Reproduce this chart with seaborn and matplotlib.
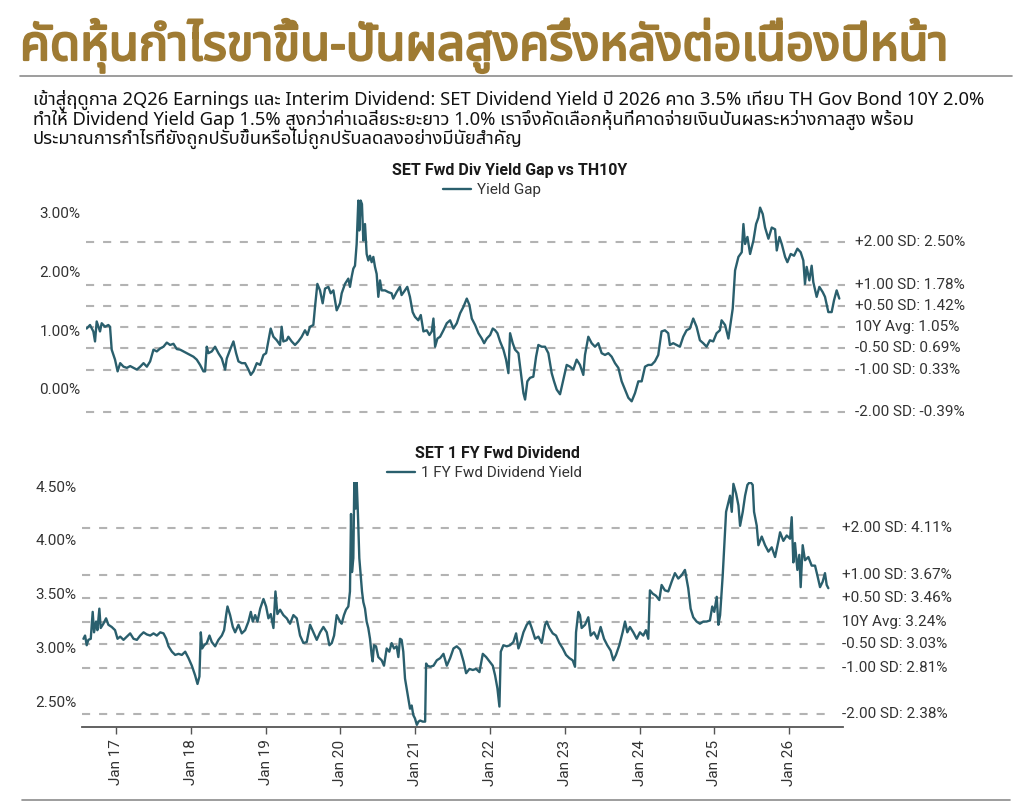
import numpy as np
import pandas as pd
import matplotlib
matplotlib.use("Agg")
import matplotlib.pyplot as plt
import matplotlib.patheffects as pe
import seaborn as sns
from matplotlib import font_manager
from matplotlib.ft2font import FT2Font
from matplotlib.ticker import FuncFormatter

# ---- data: decimal year / percent ----
gap_years = [
    2016.594, 2016.638, 2016.682, 2016.704, 2016.726, 2016.770, 2016.792, 2016.836,
    2016.880, 2016.902, 2016.924, 2016.968, 2017.000, 2017.034, 2017.078, 2017.122,
    2017.166, 2017.210, 2017.254, 2017.298, 2017.342, 2017.386, 2017.429, 2017.473,
    2017.517, 2017.561, 2017.605, 2017.649, 2017.693, 2017.737, 2017.781, 2017.825,
    2017.869, 2017.913, 2017.957, 2018.001, 2018.045, 2018.089, 2018.133, 2018.155,
    2018.177, 2018.199, 2018.243, 2018.287, 2018.331, 2018.375, 2018.419, 2018.441,
    2018.485, 2018.529, 2018.564, 2018.595, 2018.639, 2018.683, 2018.727, 2018.758,
    2018.793, 2018.837, 2018.881, 2018.925, 2018.960, 2018.991, 2019.021, 2019.057,
    2019.101, 2019.144, 2019.166, 2019.188, 2019.232, 2019.254, 2019.298, 2019.342,
    2019.386, 2019.430, 2019.474, 2019.505, 2019.540, 2019.584, 2019.606, 2019.637,
    2019.672, 2019.707, 2019.738, 2019.782, 2019.813, 2019.848, 2019.892, 2019.936,
    2019.958, 2020.002, 2020.046, 2020.068, 2020.090, 2020.112, 2020.134, 2020.156,
    2020.178, 2020.191, 2020.209, 2020.226, 2020.244, 2020.266, 2020.288, 2020.310,
    2020.332, 2020.354, 2020.376, 2020.398, 2020.420, 2020.442, 2020.464, 2020.486,
    2020.530, 2020.574, 2020.617, 2020.639, 2020.683, 2020.727, 2020.749, 2020.793,
    2020.824, 2020.859, 2020.895, 2020.925, 2020.969, 2021.000, 2021.035, 2021.079,
    2021.114, 2021.145, 2021.167, 2021.189, 2021.220, 2021.255, 2021.299, 2021.343,
    2021.387, 2021.431, 2021.475, 2021.519, 2021.563, 2021.607, 2021.642, 2021.673,
    2021.717, 2021.761, 2021.805, 2021.836, 2021.871, 2021.915, 2021.950, 2021.981,
    2022.012, 2022.047, 2022.091, 2022.126, 2022.157, 2022.179, 2022.214, 2022.245,
    2022.289, 2022.319, 2022.355, 2022.377, 2022.407, 2022.442, 2022.486, 2022.522,
    2022.552, 2022.596, 2022.640, 2022.684, 2022.728, 2022.759, 2022.794, 2022.838,
    2022.882, 2022.926, 2022.970, 2023.014, 2023.058, 2023.102, 2023.146, 2023.168,
    2023.212, 2023.256, 2023.300, 2023.344, 2023.388, 2023.432, 2023.476, 2023.520,
    2023.564, 2023.608, 2023.652, 2023.696, 2023.740, 2023.784, 2023.828, 2023.872,
    2023.916, 2023.960, 2024.003, 2024.047, 2024.091, 2024.135, 2024.179, 2024.223,
    2024.267, 2024.289, 2024.333, 2024.377, 2024.421, 2024.465, 2024.509, 2024.553,
    2024.597, 2024.641, 2024.685, 2024.729, 2024.773, 2024.817, 2024.861, 2024.905,
    2024.949, 2024.971, 2025.015, 2025.059, 2025.081, 2025.116, 2025.147, 2025.191,
    2025.235, 2025.257, 2025.279, 2025.310, 2025.345, 2025.389, 2025.424, 2025.455,
    2025.477, 2025.512, 2025.543, 2025.587, 2025.631, 2025.675, 2025.697, 2025.732,
    2025.763, 2025.807, 2025.837, 2025.881, 2025.925, 2025.969, 2026.013, 2026.048,
    2026.070, 2026.092, 2026.128, 2026.158, 2026.180, 2026.224, 2026.260, 2026.304,
    2026.334, 2026.378, 2026.422, 2026.453, 2026.488, 2026.523,
]
gap_vals = [
    1.03, 1.09, 0.98, 0.81, 1.15, 0.98, 1.12, 1.06,
    1.09, 1.06, 0.67, 0.50, 0.30, 0.44, 0.38, 0.36,
    0.39, 0.36, 0.33, 0.38, 0.44, 0.38, 0.47, 0.67,
    0.64, 0.69, 0.72, 0.79, 0.75, 0.77, 0.68, 0.67,
    0.64, 0.61, 0.58, 0.55, 0.50, 0.41, 0.30, 0.30,
    0.72, 0.61, 0.64, 0.72, 0.61, 0.52, 0.33, 0.52,
    0.67, 0.81, 0.61, 0.47, 0.44, 0.44, 0.33, 0.24,
    0.30, 0.44, 0.41, 0.58, 0.61, 0.83, 1.03, 0.89,
    0.83, 0.75, 1.06, 0.81, 0.83, 0.89, 0.81, 0.75,
    0.81, 0.89, 1.00, 0.92, 1.06, 1.09, 1.40, 1.79,
    1.68, 1.46, 1.71, 1.74, 1.63, 1.68, 1.34, 1.46,
    1.63, 1.79, 1.88, 1.74, 1.91, 2.05, 2.10, 2.47,
    3.21, 2.70, 3.21, 3.15, 2.53, 2.81, 2.30, 2.19,
    2.27, 2.16, 2.25, 2.08, 1.96, 1.57, 1.85, 1.68,
    1.68, 1.65, 1.63, 1.54, 1.65, 1.74, 1.60, 1.68,
    1.74, 1.57, 1.31, 1.23, 1.17, 1.26, 0.98, 1.00,
    0.92, 0.98, 1.20, 0.72, 0.86, 0.89, 1.00, 1.12,
    1.17, 1.03, 1.12, 1.29, 1.40, 1.54, 1.43, 1.20,
    1.09, 0.95, 0.86, 0.78, 0.86, 0.92, 1.03, 1.00,
    0.95, 0.81, 0.67, 0.50, 0.27, 0.95, 0.78, 0.67,
    0.61, 0.30, -0.07, -0.18, 0.13, 0.19, 0.21, 0.55,
    0.75, 0.72, 0.72, 0.61, 0.27, 0.13, -0.01, -0.09,
    0.16, 0.41, 0.38, 0.33, 0.50, 0.41, 0.24, 0.58,
    0.89, 0.78, 0.72, 0.78, 0.61, 0.58, 0.61, 0.55,
    0.44, 0.36, 0.13, -0.01, -0.15, -0.21, -0.07, 0.13,
    0.13, 0.38, 0.41, 0.41, 0.47, 0.58, 0.98, 1.00,
    0.95, 0.75, 0.78, 0.75, 0.72, 0.89, 1.00, 1.03,
    1.20, 1.06, 0.83, 0.78, 0.72, 0.83, 0.81, 0.95,
    1.00, 1.17, 1.09, 0.86, 1.06, 1.37, 2.02, 2.25,
    2.33, 2.81, 2.47, 2.59, 2.30, 2.53, 2.81, 2.92,
    3.09, 2.98, 2.75, 2.56, 2.75, 2.72, 2.36, 2.59,
    2.47, 2.25, 2.16, 2.30, 2.27, 2.39, 2.33, 2.19,
    1.79, 2.08, 1.85, 2.10, 1.82, 1.57, 1.74, 1.65,
    1.57, 1.31, 1.31, 1.51, 1.68, 1.54,
]

dy_years = [
    2016.564, 2016.586, 2016.608, 2016.630, 2016.662, 2016.688, 2016.706, 2016.733,
    2016.751, 2016.777, 2016.795, 2016.831, 2016.867, 2016.898, 2016.942, 2016.987,
    2017.018, 2017.054, 2017.098, 2017.143, 2017.187, 2017.232, 2017.277, 2017.321,
    2017.366, 2017.410, 2017.455, 2017.499, 2017.544, 2017.589, 2017.633, 2017.669,
    2017.700, 2017.745, 2017.789, 2017.834, 2017.878, 2017.923, 2017.967, 2018.012,
    2018.056, 2018.088, 2018.114, 2018.132, 2018.150, 2018.177, 2018.212, 2018.248,
    2018.279, 2018.324, 2018.368, 2018.413, 2018.444, 2018.471, 2018.489, 2018.524,
    2018.560, 2018.591, 2018.636, 2018.680, 2018.725, 2018.769, 2018.801, 2018.827,
    2018.859, 2018.890, 2018.926, 2018.970, 2019.006, 2019.037, 2019.068, 2019.104,
    2019.131, 2019.157, 2019.193, 2019.237, 2019.282, 2019.326, 2019.371, 2019.416,
    2019.460, 2019.505, 2019.549, 2019.594, 2019.638, 2019.683, 2019.728, 2019.772,
    2019.817, 2019.852, 2019.884, 2019.915, 2019.950, 2019.995, 2020.017, 2020.048,
    2020.075, 2020.106, 2020.128, 2020.142, 2020.155, 2020.173, 2020.186, 2020.204,
    2020.218, 2020.235, 2020.253, 2020.271, 2020.289, 2020.307, 2020.329, 2020.351,
    2020.373, 2020.396, 2020.418, 2020.431, 2020.449, 2020.476, 2020.507, 2020.552,
    2020.583, 2020.619, 2020.654, 2020.685, 2020.717, 2020.752, 2020.775, 2020.797,
    2020.819, 2020.841, 2020.864, 2020.886, 2020.908, 2020.931, 2020.953, 2020.975,
    2020.997, 2021.020, 2021.042, 2021.064, 2021.100, 2021.131, 2021.144, 2021.162,
    2021.198, 2021.243, 2021.287, 2021.332, 2021.376, 2021.421, 2021.465, 2021.510,
    2021.554, 2021.599, 2021.644, 2021.679, 2021.724, 2021.768, 2021.813, 2021.857,
    2021.902, 2021.947, 2021.991, 2022.036, 2022.067, 2022.098, 2022.125, 2022.143,
    2022.178, 2022.223, 2022.267, 2022.312, 2022.348, 2022.379, 2022.410, 2022.446,
    2022.490, 2022.526, 2022.557, 2022.602, 2022.646, 2022.691, 2022.735, 2022.758,
    2022.793, 2022.838, 2022.882, 2022.927, 2022.972, 2023.016, 2023.061, 2023.105,
    2023.136, 2023.150, 2023.181, 2023.203, 2023.225, 2023.270, 2023.314, 2023.346,
    2023.390, 2023.435, 2023.479, 2023.524, 2023.568, 2023.613, 2023.649, 2023.684,
    2023.729, 2023.773, 2023.805, 2023.836, 2023.871, 2023.916, 2023.961, 2024.005,
    2024.050, 2024.085, 2024.117, 2024.139, 2024.175, 2024.219, 2024.264, 2024.295,
    2024.339, 2024.384, 2024.429, 2024.473, 2024.518, 2024.562, 2024.607, 2024.651,
    2024.683, 2024.718, 2024.763, 2024.807, 2024.852, 2024.896, 2024.941, 2024.972,
    2024.999, 2025.030, 2025.052, 2025.075, 2025.110, 2025.133, 2025.155, 2025.186,
    2025.208, 2025.231, 2025.253, 2025.289, 2025.320, 2025.342, 2025.378, 2025.409,
    2025.440, 2025.476, 2025.511, 2025.529, 2025.565, 2025.587, 2025.632, 2025.676,
    2025.721, 2025.765, 2025.810, 2025.855, 2025.877, 2025.921, 2025.966, 2026.011,
    2026.033, 2026.055, 2026.077, 2026.109, 2026.135, 2026.153, 2026.180, 2026.211,
    2026.256, 2026.300, 2026.345, 2026.376, 2026.412, 2026.447, 2026.478, 2026.501,
    2026.523,
]
dy_vals = [
    3.08, 3.11, 3.02, 3.07, 3.08, 3.33, 3.14, 3.24,
    3.16, 3.36, 3.18, 3.22, 3.27, 3.21, 3.19, 3.16,
    3.08, 3.10, 3.07, 3.10, 3.13, 3.08, 3.07, 3.11,
    3.14, 3.12, 3.11, 3.13, 3.11, 3.14, 3.13, 3.08,
    3.01, 2.96, 2.93, 2.94, 2.93, 2.96, 2.90, 2.83,
    2.74, 2.66, 2.73, 3.14, 2.99, 3.02, 3.04, 3.11,
    3.05, 3.01, 3.07, 3.11, 3.16, 3.30, 3.38, 3.30,
    3.19, 3.14, 3.21, 3.13, 3.16, 3.24, 3.33, 3.24,
    3.30, 3.24, 3.36, 3.45, 3.38, 3.27, 3.31, 3.18,
    3.52, 3.31, 3.35, 3.30, 3.27, 3.22, 3.30, 3.27,
    3.11, 3.04, 3.05, 3.21, 3.14, 3.07, 3.14, 3.19,
    3.14, 3.02, 3.04, 3.11, 3.30, 3.24, 3.22, 3.30,
    3.35, 3.38, 3.52, 4.24, 3.70, 3.83, 4.54, 4.29,
    4.54, 4.23, 3.83, 3.67, 3.52, 3.42, 3.36, 3.24,
    3.18, 3.08, 2.93, 2.87, 3.02, 3.01, 2.91, 2.88,
    2.83, 2.99, 2.96, 3.04, 2.99, 3.01, 2.91, 3.08,
    3.07, 2.96, 2.71, 2.62, 2.53, 2.43, 2.46, 2.37,
    2.34, 2.28, 2.31, 2.32, 2.31, 2.31, 2.85, 2.83,
    2.82, 2.83, 2.88, 2.90, 2.94, 2.83, 2.90, 2.99,
    3.01, 2.98, 2.87, 2.76, 2.80, 2.79, 2.80, 2.77,
    2.94, 2.91, 2.87, 2.83, 2.74, 2.62, 2.45, 2.96,
    3.02, 3.01, 3.02, 3.05, 3.13, 2.99, 3.05, 3.14,
    3.21, 3.24, 3.18, 3.08, 3.10, 3.04, 3.21, 3.24,
    3.18, 3.13, 3.11, 3.04, 2.99, 2.93, 2.90, 2.88,
    2.82, 3.14, 3.33, 3.30, 3.18, 3.21, 3.28, 3.11,
    3.14, 3.08, 3.19, 3.08, 3.02, 2.97, 2.88, 2.93,
    3.02, 3.14, 3.24, 3.14, 3.19, 3.14, 3.08, 3.14,
    3.11, 3.16, 3.08, 3.53, 3.50, 3.48, 3.44, 3.58,
    3.53, 3.52, 3.61, 3.69, 3.64, 3.67, 3.72, 3.55,
    3.36, 3.28, 3.24, 3.22, 3.24, 3.24, 3.25, 3.38,
    3.33, 3.47, 3.21, 3.30, 3.67, 3.98, 4.26, 4.35,
    4.41, 4.26, 4.52, 4.43, 4.32, 4.13, 4.26, 4.41,
    4.51, 4.54, 4.51, 4.26, 4.13, 3.95, 4.03, 3.95,
    3.89, 3.93, 3.84, 3.99, 4.07, 3.99, 4.04, 4.01,
    4.21, 3.79, 3.97, 3.72, 3.86, 3.56, 3.95, 3.81,
    3.84, 3.76, 3.76, 3.67, 3.56, 3.61, 3.69, 3.58,
    3.55,
]

gap_levels = [2.50, 1.78, 1.42, 1.05, 0.69, 0.33, -0.39]
gap_level_labels = ["+2.00 SD: 2.50%", "+1.00 SD: 1.78%", "+0.50 SD: 1.42%", "10Y Avg: 1.05%",
                    "-0.50 SD: 0.69%", "-1.00 SD: 0.33%", "-2.00 SD: -0.39%"]
dy_levels = [4.11, 3.67, 3.46, 3.24, 3.03, 2.81, 2.38]
dy_level_labels = ["+2.00 SD: 4.11%", "+1.00 SD: 3.67%", "+0.50 SD: 3.46%", "10Y Avg: 3.24%",
                   "-0.50 SD: 3.03%", "-1.00 SD: 2.81%", "-2.00 SD: 2.38%"]
gap_yticks = [0, 1, 2, 3]
dy_yticks = [2.5, 3.0, 3.5, 4.0, 4.5]
tick_years = list(range(2017, 2027))
tick_labels = [f"Jan {y % 100:02d}" for y in tick_years]

headline = "คัดหุ้นกำไรขาขึ้น-ปันผลสูงครึ่งหลังต่อเนื่องปีหน้า"
sub_lines = [
    "เข้าสู่ฤดูกาล 2Q26 Earnings และ Interim Dividend: SET Dividend Yield ปี 2026 คาด 3.5% เทียบ TH Gov Bond 10Y 2.0%",
    "ทำให้ Dividend Yield Gap 1.5% สูงกว่าค่าเฉลี่ยระยะยาว 1.0% เราจึงคัดเลือกหุ้นที่คาดจ่ายเงินปันผลระหว่างกาลสูง พร้อม",
    "ประมาณการกำไรที่ยังถูกปรับขึ้นหรือไม่ถูกปรับลดลงอย่างมีนัยสำคัญ",
]


def to_date(yrs):
    yrs = np.asarray(yrs, dtype=float)
    whole = np.floor(yrs).astype(int)
    start = pd.to_datetime([f"{y}-01-01" for y in whole])
    return start + pd.to_timedelta((yrs - whole) * 365.25, unit="D")


def find_thai_font():
    found = []
    for f in font_manager.fontManager.ttflist:
        try:
            if 0x0E01 in FT2Font(f.fname).get_charmap():
                found.append(f.name)
        except Exception:
            pass
    for pref in ["Noto Sans Thai", "Noto Sans Thai UI", "Kanit", "Prompt", "Sarabun",
                 "IBM Plex Sans Thai", "Laksaman", "Waree", "Loma", "Garuda"]:
        if pref in found:
            return pref
    return found[0] if found else "DejaVu Sans"


sns.set_theme(style="white")
thai = find_thai_font()
plt.rcParams["font.family"] = ["Roboto", "DejaVu Sans"]

LINE = "#2a5f6d"
GOLD = "#9f7b33"
TXT = "#333333"
DASH = "#b3b3b3"
W, H = 1024, 808

fig = plt.figure(figsize=(W / 100, H / 100), dpi=100)


def fx(px):
    return px / W


def fy(py):
    return 1 - py / H


def fit_width(txt, target_px):
    # shrink/grow font so the text spans the same width as in the reference
    r = fig.canvas.get_renderer()
    w = txt.get_window_extent(renderer=r).width
    txt.set_fontsize(txt.get_fontsize() * target_px / w)


# header
head = fig.text(fx(20), fy(60), headline, family=[thai, "DejaVu Sans"], fontsize=36,
                fontweight="bold", color=GOLD, va="baseline", ha="left",
                path_effects=[pe.withStroke(linewidth=1.6, foreground=GOLD)])
fit_width(head, 928)
fig.add_artist(plt.Line2D([fx(20), fx(1012)], [fy(76), fy(76)], color="#8c8c8c", lw=1.2))
subs = []
for i, line in enumerate(sub_lines):
    subs.append(fig.text(fx(33), fy(100 + 19.5 * i), line, family=[thai, "DejaVu Sans"],
                         fontsize=12, color="#111111", va="center", ha="left"))
r = fig.canvas.get_renderer()
scale = 952 / subs[0].get_window_extent(renderer=r).width
for t in subs:
    t.set_fontsize(12 * scale)
fig.add_artist(plt.Line2D([fx(22), fx(1010)], [fy(800), fy(800)], color="#8c8c8c", lw=1.2))

# top panel
ax1 = fig.add_axes([fx(86), fy(415.4), fx(759), (415.4 - 198.8) / H])
df1 = pd.DataFrame({"date": to_date(gap_years), "val": gap_vals})
sns.lineplot(data=df1, x="date", y="val", ax=ax1, color=LINE, lw=1.7, label="Yield Gap")
ax1.set_xlim(to_date([2016.585, 2026.598]))
ax1.set_ylim(-0.45, 3.24)
for lv in gap_levels:
    ax1.axhline(lv, color=DASH, lw=1.5, dashes=(3.9, 4.3), zorder=0)
for lv, lab in zip(gap_levels, gap_level_labels):
    ax1.text((855 - 86) / 759, lv, lab, transform=ax1.get_yaxis_transform(),
             fontsize=11, color=TXT, va="center", ha="left")
ax1.set_yticks(gap_yticks)
ax1.yaxis.set_major_formatter(FuncFormatter(lambda v, p: f"{v:.2f}%"))
ax1.set_xticks([])
ax1.set_xlabel("")
ax1.set_ylabel("")
sns.despine(ax=ax1, left=True, bottom=True)
ax1.tick_params(axis="y", length=0, pad=4, labelsize=11, labelcolor=TXT)
ax1.legend(loc="center left", bbox_to_anchor=(fx(443), fy(190)), bbox_transform=fig.transFigure,
           frameon=False, fontsize=11, handlelength=1.85, handletextpad=0.4,
           borderpad=0, borderaxespad=0, labelcolor=TXT)
fig.text(fx(510), fy(171), "SET Fwd Div Yield Gap vs TH10Y", fontsize=11.5, fontweight="bold",
         color="#1a1a1a", ha="center", va="center")

# bottom panel
ax2 = fig.add_axes([fx(82), fy(727), fx(761), (727 - 481.7) / H])
df2 = pd.DataFrame({"date": to_date(dy_years), "val": dy_vals})
sns.lineplot(data=df2, x="date", y="val", ax=ax2, color=LINE, lw=1.7,
             label="1 FY Fwd Dividend Yield")
x0, x1 = to_date([2016.545, 2026.719])
ax2.set_xlim(x0, x1)
ax2.set_ylim(2.26, 4.54)
dash_end = to_date([2026.573])[0]
ax2.hlines(dy_levels, x0, dash_end, color=DASH, lw=1.5, linestyles=[(0, (3.9, 4.3))], zorder=0)
for lv, lab in zip(dy_levels, dy_level_labels):
    ax2.text((842 - 82) / 761, lv, lab, transform=ax2.get_yaxis_transform(),
             fontsize=11, color=TXT, va="center", ha="left")
ax2.set_yticks(dy_yticks)
ax2.yaxis.set_major_formatter(FuncFormatter(lambda v, p: f"{v:.2f}%"))
ax2.set_xticks(to_date(tick_years))
ax2.set_xticklabels(tick_labels, rotation=90)
ax2.set_xlabel("")
ax2.set_ylabel("")
sns.despine(ax=ax2, left=True)
ax2.spines["bottom"].set_color("#555555")
ax2.spines["bottom"].set_linewidth(1.3)
ax2.tick_params(axis="y", length=0, pad=4, labelsize=11, labelcolor=TXT)
ax2.tick_params(axis="x", length=5, width=1, color="#555555", direction="out",
                bottom=True, pad=4, labelsize=11, labelcolor=TXT)
ax2.legend(loc="center left", bbox_to_anchor=(fx(387), fy(473)), bbox_transform=fig.transFigure,
           frameon=False, fontsize=11, handlelength=1.85, handletextpad=0.4,
           borderpad=0, borderaxespad=0, labelcolor=TXT)
fig.text(fx(497), fy(453), "SET 1 FY Fwd Dividend", fontsize=11.5, fontweight="bold",
         color="#1a1a1a", ha="center", va="center")

fig.savefig("out.png", dpi=100)
